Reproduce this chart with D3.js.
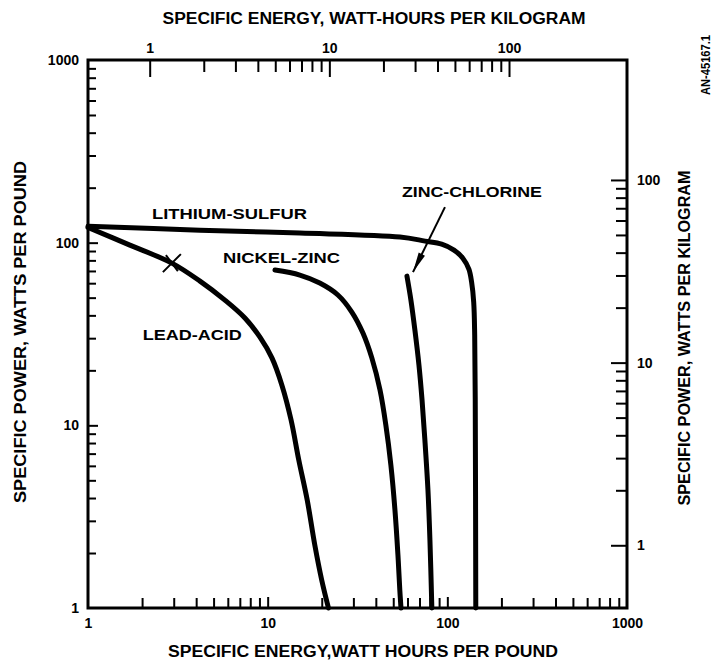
<!DOCTYPE html>
<html><head><meta charset="utf-8">
<script src="https://cdn.jsdelivr.net/npm/d3@7"></script>
<style>body{margin:0;background:#fff}text{font-family:"Liberation Sans",Arial,sans-serif;font-weight:bold;fill:#000}</style>
</head><body>
<script>
// ---- data (Wh/lb, W/lb) ----
const leadAcid = [[1,121],[1.71,97],[2.93,77.3],[4.2,61.6],[5.78,48.5],[7.47,38.7],[9.06,30.4],[10.56,23.4],[12.0,16.6],[13.5,10.7],[14.9,6.46],[16.6,3.9],[18.3,2.21],[20.0,1.42],[21.8,1]];
const nickelZinc = [[10.98,70.8],[15.1,66.5],[19.5,60.1],[24.6,51.7],[29.4,41.7],[33.9,32.0],[38.0,23.4],[42.2,15.6],[45.5,10.0],[48.5,6.06],[51.1,3.44],[53.1,1.95],[54.4,1.25],[55.2,1]];
const zincChlorine = [[59.6,65.6],[62.7,48.5],[66.0,33.2],[69.5,21.4],[72.3,13.8],[75.0,8.31],[78.0,4.43],[80.0,2.36],[82.0,1]];
const lithiumSulfur = [[1,123],[4.2,117],[15.1,112.9],[54.5,107.4],[75.2,102],[93,98.2],[108.9,91.1],[122,82.2],[131.8,71.6],[136.5,60.8],[140.2,47.3],[142,31.2],[143,13.8],[144,1]];
const seriesNames = ["LEAD-ACID","NICKEL-ZINC","ZINC-CHLORINE","LITHIUM-SULFUR"];
const labelAnchors = [[2.02,29.3],[5.64,77.3],[55.9,177.8],[2.27,134.7]];
const labelWidths = [99,117,140,155];
const starPoint = [2.93,77.3];
const arrowFrom = [97,156.6], arrowTo = [64.4,69];
const bottomLabels = [1,10,100,1000], leftLabels = [1,10,100,1000];
const topLabels = [1,10,100], rightLabels = [1,10,100];
const lbToKg = 2.2046;

const W=716,H=663;
const svg = d3.select("body").append("svg").attr("width",W).attr("height",H);
svg.append("rect").attr("width",W).attr("height",H).attr("fill","#fff");

const x = d3.scaleLog().domain([1,1000]).range([88,627]);
const y = d3.scaleLog().domain([1,1000]).range([608,60]);
const xTop = d3.scaleLog().domain([1/lbToKg,1000/lbToKg]).range([88,627]);
const yRight = d3.scaleLog().domain([1/lbToKg,1000/lbToKg]).range([608,60]);

const minors = d3.range(3).flatMap(e=>d3.range(2,10).map(m=>m*Math.pow(10,e)));
const minorsTR = d3.range(2).flatMap(e=>d3.range(2,10).map(m=>m*Math.pow(10,e)));

function drawAxis(axis, tr, fs){
  const g = svg.append("g").attr("transform",tr).call(axis);
  g.select(".domain").remove();
  g.selectAll(".tick line").attr("stroke","#000").attr("stroke-width",2);
  g.selectAll(".tick text").attr("font-size",fs||14).style("font-family","'Liberation Sans',Arial,sans-serif").style("font-weight","bold");
  return g;
}
// bottom
drawAxis(d3.axisBottom(x).tickValues(minors).tickSize(-10).tickFormat(""),"translate(0,608)");
drawAxis(d3.axisBottom(x).tickValues([10,100]).tickSize(-11).tickFormat(""),"translate(0,608)");
drawAxis(d3.axisBottom(x).tickValues(bottomLabels).tickSize(0).tickPadding(10).tickFormat(d3.format("d")),"translate(0,608)");
// left
drawAxis(d3.axisLeft(y).tickValues(minors).tickSize(-8).tickFormat(""),"translate(88,0)");
drawAxis(d3.axisLeft(y).tickValues([10,100]).tickSize(-10).tickFormat(""),"translate(88,0)");
drawAxis(d3.axisLeft(y).tickValues(leftLabels).tickSize(0).tickPadding(9).tickFormat(d3.format("d")),"translate(88,0)");
// top
drawAxis(d3.axisTop(xTop).tickValues(minorsTR).tickSize(-12).tickFormat(""),"translate(0,60)");
drawAxis(d3.axisTop(xTop).tickValues(topLabels).tickSize(-17).tickFormat(""),"translate(0,60)");
drawAxis(d3.axisTop(xTop).tickValues(topLabels).tickSize(0).tickPadding(7).tickFormat(d3.format("d")),"translate(0,60)");
// right
drawAxis(d3.axisRight(yRight).tickValues(minorsTR).tickSize(-11).tickFormat(""),"translate(627,0)");
drawAxis(d3.axisRight(yRight).tickValues(rightLabels).tickSize(-16).tickFormat(""),"translate(627,0)");
drawAxis(d3.axisRight(yRight).tickValues(rightLabels).tickSize(0).tickPadding(10).tickFormat(d3.format("d")),"translate(627,0)");

// frame
svg.append("rect").attr("x",x(1)).attr("y",y(1000)).attr("width",x(1000)-x(1)).attr("height",y(1)-y(1000))
  .attr("fill","none").attr("stroke","#000").attr("stroke-width",3);

// curves
const line = d3.line().x(d=>x(d[0])).y(d=>y(d[1])).curve(d3.curveCatmullRom.alpha(0.5));
[leadAcid,nickelZinc,zincChlorine,lithiumSulfur].forEach(s=>{
  svg.append("path").datum(s).attr("d",line).attr("fill","none").attr("stroke","#000")
    .attr("stroke-width",5).attr("stroke-linecap","round").attr("stroke-linejoin","round");
});

// labels
seriesNames.forEach((n,i)=>{
  svg.append("text").attr("x",x(labelAnchors[i][0])).attr("y",y(labelAnchors[i][1]))
    .attr("font-size",15).attr("textLength",labelWidths[i]).attr("lengthAdjust","spacingAndGlyphs").text(n);
});

// star marker
const sx=x(starPoint[0]), sy=y(starPoint[1]);
svg.append("path").attr("d",`M${sx-9},${sy+9}L${sx+9},${sy-9}M${sx-6},${sy-8}L${sx+6},${sy+8}`)
  .attr("stroke","#000").attr("stroke-width",2);

// arrow
const ax1=x(arrowFrom[0]), ay1=y(arrowFrom[1]), ax2=x(arrowTo[0]), ay2=y(arrowTo[1]);
svg.append("line").attr("x1",ax1).attr("y1",ay1).attr("x2",ax2).attr("y2",ay2).attr("stroke","#000").attr("stroke-width",2);
const ang=Math.atan2(ay2-ay1,ax2-ax1);
const hl=20, hw=3.5;
const bx=ax2-hl*Math.cos(ang), by=ay2-hl*Math.sin(ang);
svg.append("path").attr("d",`M${ax2},${ay2}L${bx+hw*Math.sin(ang)},${by-hw*Math.cos(ang)}L${bx-hw*Math.sin(ang)},${by+hw*Math.cos(ang)}Z`).attr("fill","#000");

// axis titles
svg.append("text").attr("x",374).attr("y",24).attr("text-anchor","middle").attr("font-size",16)
  .attr("textLength",423).attr("lengthAdjust","spacingAndGlyphs").text("SPECIFIC ENERGY, WATT-HOURS PER KILOGRAM");
svg.append("text").attr("x",363).attr("y",657).attr("text-anchor","middle").attr("font-size",16)
  .attr("textLength",390).attr("lengthAdjust","spacingAndGlyphs").text("SPECIFIC ENERGY,WATT HOURS PER POUND");
svg.append("text").attr("transform","translate(26,332) rotate(-90)").attr("text-anchor","middle").attr("font-size",16)
  .attr("textLength",342).attr("lengthAdjust","spacingAndGlyphs").text("SPECIFIC POWER, WATTS PER POUND");
svg.append("text").attr("transform","translate(690,338) rotate(-90)").attr("text-anchor","middle").attr("font-size",16)
  .attr("textLength",335).attr("lengthAdjust","spacingAndGlyphs").text("SPECIFIC POWER, WATTS PER KILOGRAM");
svg.append("text").attr("transform","translate(710,65) rotate(-90)").attr("text-anchor","middle").attr("font-size",12)
  .attr("textLength",60).attr("lengthAdjust","spacingAndGlyphs").text("AN-45167.1");
</script>
</body></html>
